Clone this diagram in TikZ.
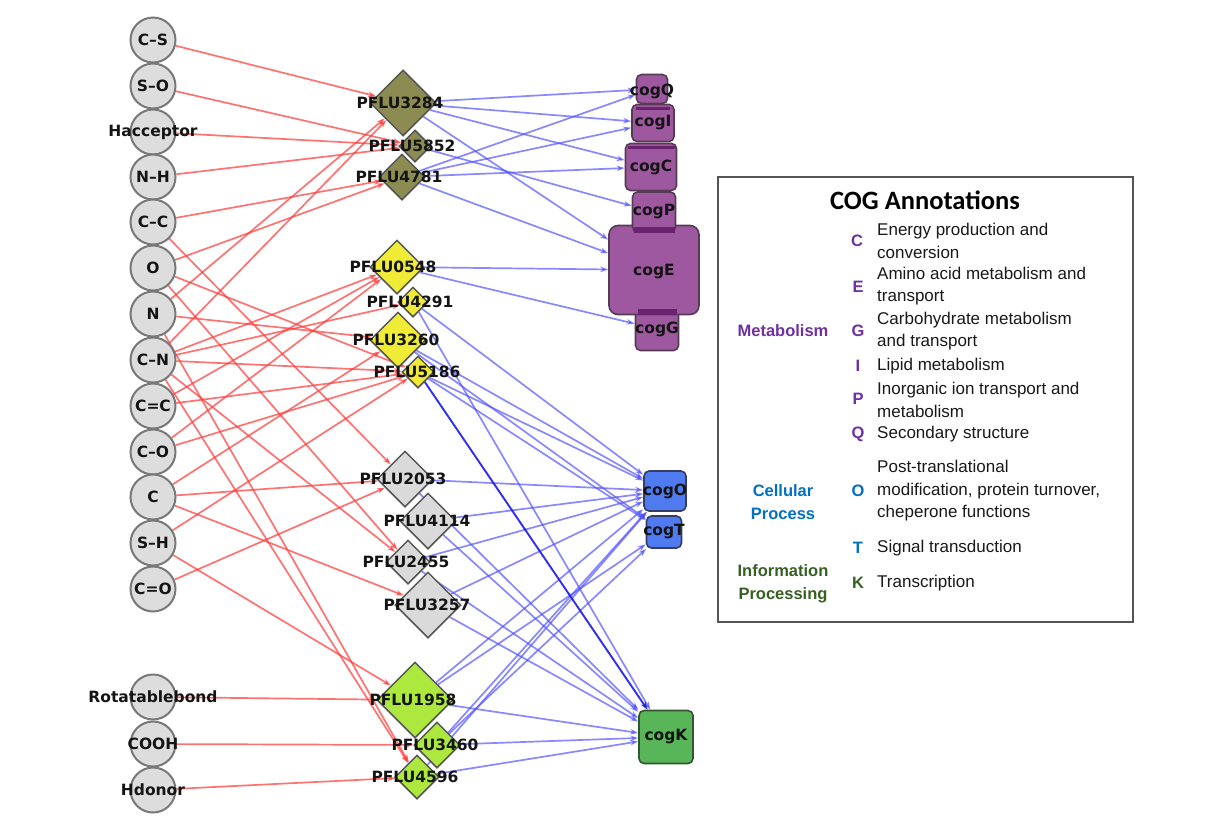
\documentclass[tikz,border=0pt]{standalone}
\usepackage{fontspec}
\setmainfont{Liberation Sans}
\newfontfamily\dejavu{DejaVu Sans}
\newfontfamily\carlito{Carlito}
\usetikzlibrary{shapes.geometric,arrows.meta}
\pgfdeclarelayer{bglayer}
\pgfdeclarelayer{edgelayer}
\pgfdeclarelayer{toplayer}
\pgfsetlayers{bglayer,edgelayer,main,toplayer}
\definecolor{circfill}{RGB}{221,221,221}
\definecolor{circline}{RGB}{120,120,120}
\definecolor{dialine}{RGB}{85,85,85}
\definecolor{olivef}{RGB}{140,140,82}
\definecolor{yellowf}{RGB}{240,235,55}
\definecolor{grayf}{RGB}{218,218,218}
\definecolor{greenf}{RGB}{172,232,62}
\definecolor{cogpur}{RGB}{158,88,160}
\definecolor{cogpurline}{RGB}{85,60,85}
\definecolor{cogdark}{RGB}{105,35,110}
\definecolor{cogblue}{RGB}{80,122,240}
\definecolor{cogblueline}{RGB}{55,60,100}
\definecolor{coggreen}{RGB}{88,182,88}
\definecolor{coggreenline}{RGB}{50,85,50}
\definecolor{redc}{RGB}{255,60,60}
\definecolor{bluec}{RGB}{80,80,255}
\definecolor{darkbluec}{RGB}{25,25,235}
\definecolor{metpur}{RGB}{112,48,160}
\definecolor{celblue}{RGB}{0,112,192}
\definecolor{infgreen}{RGB}{56,96,35}
\definecolor{legline}{RGB}{85,85,85}
\begin{document}
\begin{tikzpicture}[x=1pt,y=-1pt,
  src/.style={circle, draw=circline, fill=circfill, line width=2pt, minimum size=45pt, inner sep=0pt},
  dia/.style={diamond, aspect=1, draw=dialine, line width=1.5pt, inner sep=0pt},
  cogbox/.style={rectangle, rounded corners=5pt, line width=1.6pt, inner sep=0pt},
  purbox/.style={cogbox, draw=cogpurline, fill=cogpur},
  nlab/.style={font=\dejavu\bfseries\fontsize{15.5}{16}\selectfont, text=black!92, inner sep=0pt},
  redge/.style={draw=redc, opacity=0.72, line width=1.7pt, -{Stealth[length=8pt,width=5.5pt]}},
  bedge/.style={draw=bluec, opacity=0.68, line width=1.7pt, -{Stealth[length=8pt,width=5.5pt]}},
  dedge/.style={draw=darkbluec, opacity=0.9, line width=1.9pt, -{Stealth[length=8pt,width=5.5pt]}},
  desc/.style={anchor=west, align=left, inner sep=0pt, font=\fontsize{17}{22.5}\selectfont, text=black!90},
  letter/.style={inner sep=0pt, font=\bfseries\fontsize{16.5}{20}\selectfont},
  cat/.style={inner sep=0pt, align=center, font=\bfseries\fontsize{16.5}{23}\selectfont}
]
\begin{pgfonlayer}{bglayer}
\fill[white] (0,0) rectangle (1225,820);
\end{pgfonlayer}
\useasboundingbox (0,0) rectangle (1225,820);

% source circles
\node[src] (cs) at (153,40) {};
\node[src] (so) at (153,86) {};
\node[src] (hacc) at (153,132) {};
\node[src] (nh) at (153,177) {};
\node[src] (cc) at (153,222) {};
\node[src] (o) at (153,268) {};
\node[src] (n) at (153,314) {};
\node[src] (cn) at (153,360) {};
\node[src] (cdc) at (153,406) {};
\node[src] (co) at (153,452) {};
\node[src] (c) at (153,497) {};
\node[src] (sh) at (153,543) {};
\node[src] (cdo) at (153,589) {};
\node[src] (rot) at (153,697) {};
\node[src] (cooh) at (153,744) {};
\node[src] (hdon) at (153,790) {};

% diamonds
\node[dia, fill=olivef, minimum size=66pt] (p3284) at (403,103) {};
\node[dia, fill=olivef, minimum size=32pt] (p5852) at (415,146) {};
\node[dia, fill=olivef, minimum size=46pt] (p4781) at (402,177) {};
\node[dia, fill=yellowf, minimum size=54pt] (p0548) at (397,267) {};
\node[dia, fill=yellowf, minimum size=30pt] (p4291) at (413,302) {};
\node[dia, fill=yellowf, minimum size=56pt] (p3260) at (398,340) {};
\node[dia, fill=yellowf, minimum size=32pt] (p5186) at (418,372) {};
\node[dia, fill=grayf, minimum size=56pt] (p2053) at (405,479) {};
\node[dia, fill=grayf, minimum size=56pt] (p4114) at (428,521) {};
\node[dia, fill=grayf, minimum size=44pt] (p2455) at (408,562) {};
\node[dia, fill=grayf, minimum size=66pt] (p3257) at (428,605) {};
\node[dia, fill=greenf, minimum size=76pt] (p1958) at (415,700) {};
\node[dia, fill=greenf, minimum size=46pt] (p3460) at (437,745) {};
\node[dia, fill=greenf, minimum size=44pt] (p4596) at (417,777) {};

% cog boxes
\node[purbox, minimum width=43pt, minimum height=43pt] (cogG) at (657,329) {};
\node[purbox, minimum width=90pt, minimum height=89pt, rounded corners=9pt] (cogE) at (654,270) {};
\node[purbox, minimum width=43pt, minimum height=40pt] (cogP) at (654,212) {};
\node[purbox, minimum width=51pt, minimum height=47pt] (cogC) at (651,167) {};
\node[purbox, minimum width=42pt, minimum height=37pt] (cogI) at (653,123) {};
\node[purbox, minimum width=31pt, minimum height=29pt] (cogQ) at (652,89) {};
\fill[cogdark] (636,107) rectangle (670,110);
\fill[cogdark] (628,146) rectangle (675,149);
\fill[cogdark] (634,227) rectangle (675,233);
\fill[cogdark] (638,309) rectangle (677,315);
\node[cogbox, draw=cogblueline, fill=cogblue, minimum width=42pt, minimum height=40pt] (cogO) at (665,491) {};
\node[cogbox, draw=cogblueline, fill=cogblue, minimum width=35pt, minimum height=32pt] (cogT) at (664,532) {};
\node[cogbox, draw=coggreenline, fill=coggreen, minimum width=54pt, minimum height=53pt] (cogK) at (666,737) {};

% edges
\begin{pgfonlayer}{edgelayer}
\foreach \a/\b in {cs/p3284, so/p5852, hacc/p5852, nh/p5852, cc/p4781, o/p4781,
  n/p3284, cn/p3284, cn/p0548, cdc/p0548, co/p0548, cn/p4291, n/p3260, c/p3260,
  o/p5186, cn/p5186, cdc/p5186, co/p5186, sh/p5186, cc/p2053, c/p2053, cdo/p2053,
  o/p2455, cn/p2455, c/p3257, sh/p1958, rot/p1958, cooh/p3460, hdon/p4596,
  n/p4596, cn/p4596}
  \draw[redge] (\a) -- (\b);
\foreach \a/\b in {p3284/cogQ, p3284/cogI, p3284/cogC, p3284/cogE, p5852/cogP,
  p4781/cogQ, p4781/cogI, p4781/cogC, p4781/cogE, p0548/cogE, p0548/cogG,
  p4291/cogO, p4291/cogK, p3260/cogO, p3260/cogT, p5186/cogO, p5186/cogT,
  p2053/cogO, p2053/cogK, p4114/cogO, p4114/cogK, p2455/cogO, p2455/cogK,
  p3257/cogO, p3257/cogK, p1958/cogO, p1958/cogT, p1958/cogK,
  p3460/cogO, p3460/cogT, p3460/cogK, p4596/cogO, p4596/cogK}
  \draw[bedge] (\a) -- (\b);
\draw[dedge] (p5186) -- (cogK);
\end{pgfonlayer}

% labels
\begin{pgfonlayer}{toplayer}
\node[nlab] (tcs) at (cs) {C–S};
\node[nlab] (tso) at (so) {S–O};
\node[nlab] (thacc) at (hacc) {Hacceptor};
\node[nlab] (tnh) at (nh) {N–H};
\node[nlab] (tcc) at (cc) {C–C};
\node[nlab] (to) at (o) {O};
\node[nlab] (tn) at (n) {N};
\node[nlab] (tcn) at (cn) {C–N};
\node[nlab] (tcdc) at (cdc) {C=C};
\node[nlab] (tco) at (co) {C–O};
\node[nlab] (tc) at (c) {C};
\node[nlab] (tsh) at (sh) {S–H};
\node[nlab] (tcdo) at (cdo) {C=O};
\node[nlab] (trot) at (rot) {Rotatablebond};
\node[nlab] (tcooh) at (cooh) {COOH};
\node[nlab] (thdon) at (hdon) {Hdonor};
\node[nlab] (t3284) at ([xshift=-3pt]p3284.center) {PFLU3284};
\node[nlab] (t5852) at ([xshift=-3pt]p5852.center) {PFLU5852};
\node[nlab] (t4781) at ([xshift=-3pt]p4781.center) {PFLU4781};
\node[nlab] (t0548) at ([xshift=-4pt]p0548.center) {PFLU0548};
\node[nlab] (t4291) at ([xshift=-3pt]p4291.center) {PFLU4291};
\node[nlab] (t3260) at ([xshift=-2pt]p3260.center) {PFLU3260};
\node[nlab] (t5186) at ([xshift=-1pt]p5186.center) {PFLU5186};
\node[nlab] (t2053) at ([xshift=-2pt]p2053.center) {PFLU2053};
\node[nlab] (t4114) at ([xshift=-1pt]p4114.center) {PFLU4114};
\node[nlab] (t2455) at ([xshift=-2pt]p2455.center) {PFLU2455};
\node[nlab] (t3257) at ([xshift=-1pt]p3257.center) {PFLU3257};
\node[nlab] (t1958) at ([xshift=-2pt]p1958.center) {PFLU1958};
\node[nlab] (t3460) at ([xshift=-2pt]p3460.center) {PFLU3460};
\node[nlab] (t4596) at ([xshift=-2pt]p4596.center) {PFLU4596};
\node[nlab] (tQ) at ([yshift=-2pt]cogQ.center) {cogQ};
\node[nlab] (tI) at (cogI) {cogI};
\node[nlab] (tC) at (cogC) {cogC};
\node[nlab] (tP) at (cogP) {cogP};
\node[nlab] (tE) at ([yshift=-2pt]cogE.center) {cogE};
\node[nlab] (tG) at (cogG) {cogG};
\node[nlab] (tO) at (cogO) {cogO};
\node[nlab] (tT) at (cogT) {cogT};
\node[nlab] (tK) at (cogK) {cogK};
\end{pgfonlayer}

% legend
\node[draw=legline, line width=1.5pt, minimum width=415pt, minimum height=445pt, inner sep=0pt] (legend) at (925.5,399.5) {};
\node[inner sep=0pt, font=\carlito\bfseries\fontsize{26.5}{28}\selectfont] (ttl) at (925,200) {COG Annotations};
\node[cat, text=metpur] (cmet) at (783,331) {Metabolism};
\node[cat, text=celblue] (ccel) at (783,502) {Cellular\\Process};
\node[cat, text=infgreen] (cinf) at (783,584) {Information\\Processing};
\node[letter, text=metpur] (lC) at (857,241) {C};
\node[letter, text=metpur] (lE) at (858,287) {E};
\node[letter, text=metpur] (lG) at (858,331) {G};
\node[letter, text=metpur] (lI) at (858,366) {I};
\node[letter, text=metpur] (lP) at (858,399) {P};
\node[letter, text=metpur] (lQ) at (858,434) {Q};
\node[letter, text=celblue] (lO) at (858,491) {O};
\node[letter, text=celblue] (lT) at (858,548) {T};
\node[letter, text=infgreen] (lK) at (858,583) {K};
\node[desc] (dC) at (877,241) {Energy production and\\conversion};
\node[desc] (dE) at (877,286) {Amino acid metabolism and\\transport};
\node[desc] (dG) at (877,331) {Carbohydrate metabolism\\and transport};
\node[desc] (dI) at (877,366) {Lipid metabolism};
\node[desc] (dP) at (877,400) {Inorganic ion transport and\\metabolism};
\node[desc] (dQ) at (877,434) {Secondary structure};
\node[desc] (dO) at (877,491) {Post-translational\\modification, protein turnover,\\cheperone functions};
\node[desc] (dT) at (877,548) {Signal transduction};
\node[desc] (dK) at (877,583) {Transcription};
\end{tikzpicture}
\end{document}
